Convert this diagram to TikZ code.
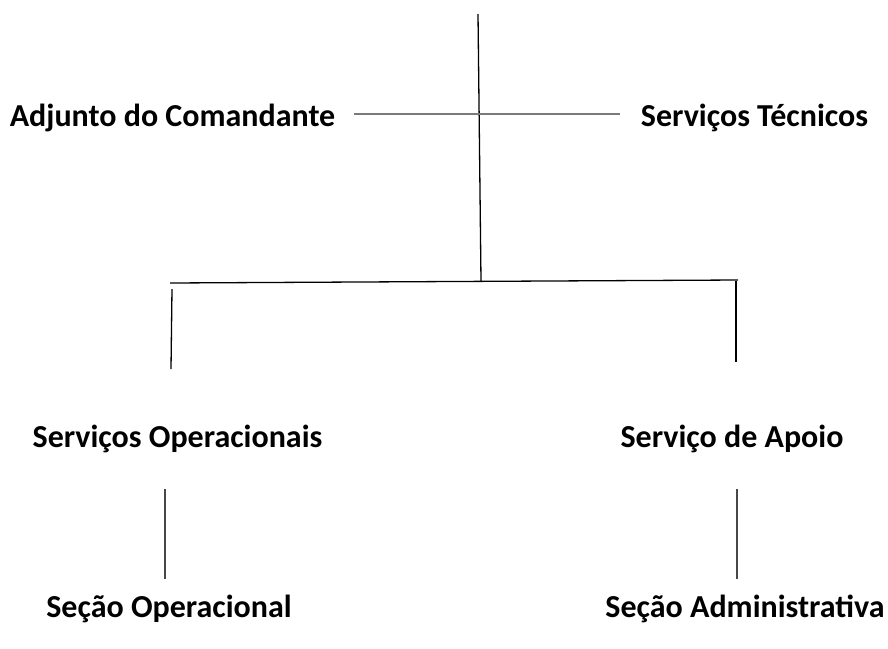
\documentclass[tikz,border=0pt]{standalone}
\usepackage{fontspec}
\setmainfont{Carlito}
\begin{document}
\begin{tikzpicture}[x=1pt,y=-1pt,
  lbl/.style={inner sep=0pt,anchor=base,font=\fontsize{32}{38}\selectfont\bfseries,text=black},
  blk/.style={draw=black,line width=1.3pt},
  gry/.style={draw=black!52,line width=1.6pt},
  dgr/.style={draw=black!72,line width=1.3pt}]
\useasboundingbox[fill=white] (0,0) rectangle (888,648);
% labels
\node[lbl] (adj) at (172.5,126) {Adjunto do Comandante};
\node[lbl] (tec) at (754.5,126) {Serviços Técnicos};
\node[lbl] (ope) at (177.5,447) {Serviços Operacionais};
\node[lbl] (apo) at (732,447) {Serviço de Apoio};
\node[lbl] (sop) at (169,617) {Seção Operacional};
\node[lbl] (sad) at (745,617) {Seção Administrativa};
% coordinates
\coordinate (top) at (478,14);
\coordinate (mid) at (481,281);
\coordinate (hl) at (170,283);
\coordinate (hr) at (738,280);
\coordinate (lt) at (172,289);
\coordinate (lb) at (171,369);
\coordinate (rt) at (736,281);
\coordinate (rb) at (736,362);
\coordinate (ga) at (354,114);
\coordinate (gb) at (620,114);
\coordinate (o1) at (165,489);
\coordinate (o2) at (165,579);
\coordinate (a1) at (737,489);
\coordinate (a2) at (737,579);
% connectors
\draw[blk] (top) -- (mid);
\draw[gry] (ga) -- (gb);
\draw[blk] (hl) -- (hr);
\draw[blk] (lt) -- (lb);
\draw[blk] (rt) -- (rb);
\draw[dgr] (o1) -- (o2);
\draw[dgr] (a1) -- (a2);
\end{tikzpicture}
\end{document}
